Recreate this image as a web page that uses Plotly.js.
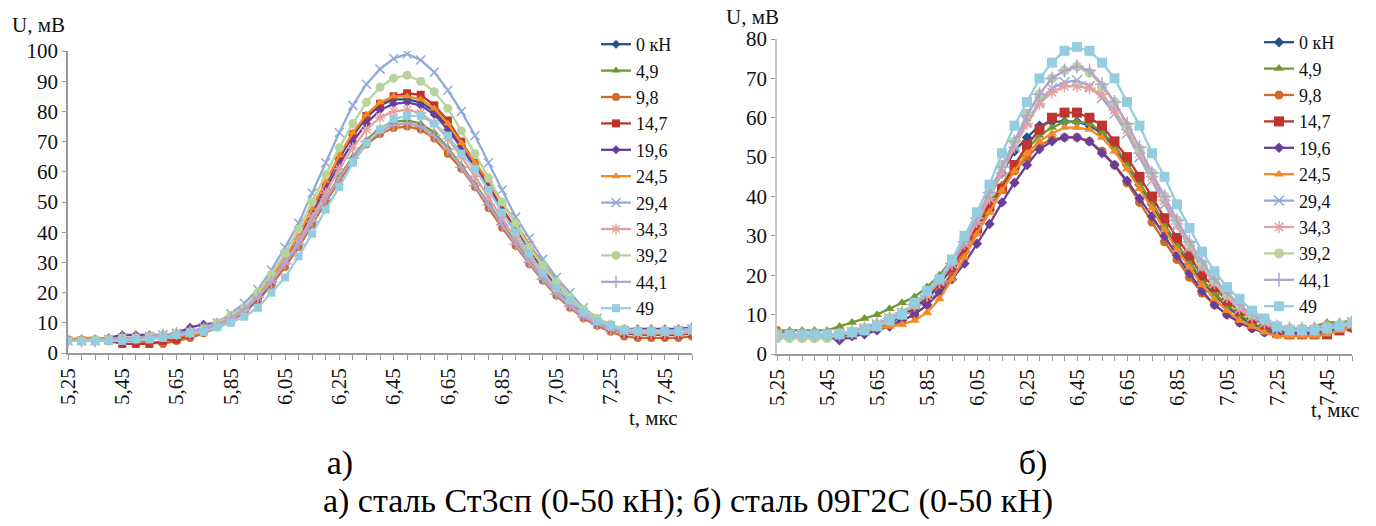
<!DOCTYPE html>
<html>
<head>
<meta charset="utf-8">
<script src="https://cdn.plot.ly/plotly-3.0.1.min.js"></script>
</head>
<body style="margin:0;background:#fff">
<div id="chart" style="width:1376px;height:440px"></div>
<div style="margin-top:4px;height:38px;line-height:38px;font-family:'Liberation Serif';font-size:34px;color:#000;white-space:nowrap"><span style="display:inline-block;margin-left:290px;width:100px;text-align:center">а)</span><span style="display:inline-block;margin-left:593px;width:100px;text-align:center">б)</span></div>
<div style="height:38px;line-height:38px;font-family:'Liberation Serif';font-size:34px;color:#000;text-align:center;white-space:nowrap;width:1376px">а) сталь Ст3сп (0-50 кН); б) сталь 09Г2С (0-50 кН)</div>
<script>
// time, µs
const t = [5.25,5.30,5.35,5.40,5.45,5.50,5.55,5.60,5.65,5.70,5.75,5.80,5.85,5.90,5.95,6.00,6.05,6.10,6.15,6.20,6.25,6.30,6.35,6.40,6.45,6.50,6.55,6.60,6.65,6.70,6.75,6.80,6.85,6.90,6.95,7.00,7.05,7.10,7.15,7.20,7.25,7.30,7.35,7.40,7.45,7.50,7.55];
const seriesNames = ['0 кН','4,9','9,8','14,7','19,6','24,5','29,4','34,3','39,2','44,1','49'];

// а) сталь Ст3сп
const a_0   = [4,4,4,4.5,4.5,5,5,5,5.5,6,7.5,9,11,14.5,19,24.5,31,38.5,47,56,64.5,72,78,82,84,84,83,80,75,68.5,62,55,47.5,40.5,33.5,27.5,22,17,13,10,8,7,6.5,6.5,6.5,6.5,7];
const a_49  = [4,4,4,4.5,4.5,5,5,5.5,6,6.5,7.5,9,11,14,18,23,29,36,43.5,51,58.5,65,70.5,74.5,76.5,77,76,73,68,62,56,49.5,43,36.5,30.5,25,20,15.5,12,9.5,8,7,6.5,6.5,6.5,6.5,7];
const a_98  = [4.5,4.5,4.5,4.5,4,4,3.5,3,4,5,6.5,8.5,10.5,13.5,17.5,22.5,28.5,35,42.5,50,57,63.5,69,72.5,74.5,75,74,71,66,61,55,48,41.5,35.5,29.5,24,19,15,11.5,9,7,5.5,5,5,5,5,5.5];
const a_147 = [4,4,4,4,3,3,3,4,4.5,6,7.5,9,11,14,18.5,24,30,38,47,56,65,72.5,78.5,82.5,85,86,85.5,82,77,70,63,55.5,48,41,34,27.5,22,17,13,10,8,6.5,6,6,6,6,6.5];
const a_196 = [4,4,4.5,5,6,6,6,6,6.5,8.5,9.5,10,11.5,14,18,23.5,30,37.5,46,54.5,62.5,70,76,80.5,82.5,83,82,79,74,68,61.5,54.5,47,40,33,27,21.5,16.5,12.5,10,8.5,8,8,8,8,8,8.5];
const a_245 = [4.5,5,5,4.5,4.5,4.5,5,5,5.5,6,7,9,11.5,15,19.5,25,31.5,39,48,57,65.5,73,79,83,85,85,84,81,76,69.5,63,57,50,43,36,29.5,24,18.5,14,10.5,8.5,7,6.5,6.5,6.5,6.5,7];
const a_294 = [4,4,4,4.5,5,5,5.5,6,6.5,7,8.5,10,13,16.5,21,27.5,35,43,53,63,73,82,89,94,97.5,99,97,93,87,80,72,63,54,45,38,31,25,20,15,11.5,9,7.5,7,7,7,7.5,8];
const a_343 = [4,4,4,4.5,5,5,5,5.5,6,6.5,7.5,9,11,14,18.5,24,30,37,45,53,61,68,74,78,80,80.5,79.5,76,71,65,58.5,51.5,44.5,38,31.5,25.5,20.5,16,12.5,10,8,7,6.5,6.5,6.5,6.5,7];
const a_392 = [4,4,4.5,4.5,5,5,5.5,6,6.5,7,8,10,12.5,15,20,26,33,41,50,59,68,76,83,88,91,92,90,86.5,81,73.5,66,58,50,43,35,29,23.5,18.5,14.5,11.5,9.5,8,7.5,7.5,7.5,7.5,8];
const a_441 = [4,4,4,4.5,5,5,5.5,6,6.5,7,8,9.5,11.5,14.5,18.5,23.5,29.5,36,43.5,51,58,64.5,70,73.5,75.5,76,75,72,67.5,61.5,55.5,49,42.5,36,30,24.5,19.5,15.5,12,9.5,8,7,7,7,7,7.5,8];
const a_490 = [4,4,4,4,4,4.5,4.5,5,6,6.5,7,8.5,10,12,15,20,25,32,39.5,47.5,55,63,69.5,74,77.5,78.5,78.5,76,72,66,61,54,46.5,40,33,26.5,21.5,17.5,13.5,10.5,9,7.5,7,7,7,7,7.5];

// б) сталь 09Г2С
const b_0   = [5,5,5,5,5,5,5.5,6,7,8,9.5,11.5,14,17.5,22,28,34,40,46,51.5,55,58,59,59,59,58,56,52.5,48,43,38,32.5,27.5,23,18.5,15,12,9.5,7.5,6.5,5.5,5,5,5.5,6,7,7.5];
const b_49  = [6,6,6,6,6,7,8,9,10,11.5,13,14.5,17,20,24,28.5,33,38,43,48,52,55.5,57.5,59,59,58.5,56.5,53,48.5,43.5,38.5,33,28,23.5,19,15.5,12.5,10,8,6.5,6,6,6,7,8,8,8.5];
const b_98  = [6,5,5,5,5,5,5.5,6,6.5,7.5,8.5,10,12.5,16,20.5,26,31,36.5,42,46.5,50,53,54.5,55,55,54,51.5,48,43.5,38.5,33.5,28.5,24,19.5,15.5,12.5,10,8,6.5,5.5,5,5,5,5,5.5,6,6.5];
const b_147 = [5,5,5,5,5,4.5,5,6,7,8.5,10,12,14.5,18,22,27,32,37.5,42,48,53,57,60,61.3,61.3,60,58,54,50,45,40,34.5,29.5,25,20,17,13.5,11,9,7.5,5.5,5,5,5,5,6,7];
const b_196 = [4.5,4.5,4.5,4.5,4.5,3.5,4.5,5,6,7,8.5,10,12.5,15.5,19,23,28,33,38.5,43.5,48,52,54,55,55,54,51,48,44,39.5,35,30,25,20.5,16,12.5,10,8,6.5,5.5,5.5,5.5,5.5,5.5,6,6.5,7];
const b_245 = [5,5,5,5,5,5,5.5,6,6.5,7,7.5,8.5,10.5,14,19,24.5,30.5,36,41.5,46.5,51,54,56,57.5,57.5,57,55,51.5,47,42,37,31.5,26.5,22,17.5,14,11,8.5,7,5.5,4.5,4.5,4.5,4.5,5,6,7];
const b_294 = [5,5,5,5,5,5,5.5,6.5,7.5,9,10.5,12.5,15,18.5,23,28.5,34,40,46.5,53,59,64,67.5,69,69.5,68,65,61,56,50,44,38,32.5,27,22,18,14.5,11.5,9.5,8,6.5,6,6,6,6.5,7,8];
const b_343 = [4.5,4.5,4.5,4.5,4.5,5,5.5,6.5,7.5,9,10.5,12.5,15,18.5,23,28,33.5,39.5,46,52.5,58.5,63.5,66.5,68,68,67.5,66,62,57,51,45,39,33,27.5,22.5,18,14.5,11.5,9.5,8,6.5,6,6,6,6.5,7,7.5];
const b_392 = [4,4,4,4,4,5,5.5,6.5,7.5,9,10.5,12.5,15.5,19,23.5,29,35,41,48,54,61,66,70,72,73,71.5,68,64,58,52,46,40,34,28,23,18.5,15,12.5,10,8.5,7,6.5,6.5,6.5,7,7.5,8];
const b_441 = [5,5,5,5,5,5,5.5,6.5,7.5,9,10.5,12.5,15,18.5,23,28.5,34.5,41,47.5,54,60.5,66,70,72,73,72,68.5,64,58.5,52.5,46,40,34,28.5,23.5,19,15.5,12.5,10,8.5,7,6.5,6.5,6.5,7,7.5,8];
const b_490 = [5,5,5,5,5,5,5.5,6,7,8.5,10,13,16,19,24,30,36,43,51,58,64,70,74,77,78,77,74,70,64,58,51,45,38,32,26,21,17,14,11,9,7,6,6,6,6.5,7,8];

const seriesA = [a_0,a_49,a_98,a_147,a_196,a_245,a_294,a_343,a_392,a_441,a_490];
const seriesB = [b_0,b_49,b_98,b_147,b_196,b_245,b_294,b_343,b_392,b_441,b_490];

const colors  = ['#24508f','#6f9a33','#d06b25','#c0342f','#6a3f9c','#f48a24','#91abd9','#e3a2a0','#b8d49c','#b2a3cf','#94cde0'];
const symbols = ['diamond','triangle-up','circle','square','diamond','triangle-up','x-thin-open','asterisk-open','circle','cross-thin-open','square'];
const sizesA  = [7,8,8,8,7,8,9,9,9,9,8];
const sizesB  = [8,9,9,10,8,9,10,10,10,10,10];

const FONT = 'Liberation Serif';
const traces = [];
function addSet(data, xa, ya, leg, sizes) {
  data.forEach((ys, i) => {
    const thin = symbols[i].indexOf('thin') >= 0 || symbols[i].indexOf('asterisk') >= 0;
    traces.push({
      x: t, y: ys, xaxis: xa, yaxis: ya, legend: leg,
      type: 'scatter', mode: 'lines+markers', name: seriesNames[i],
      line: {color: colors[i], width: 2.3},
      marker: {symbol: symbols[i], size: sizes[i], color: colors[i],
               line: {color: colors[i], width: thin ? 1.5 : 0}},
      hoverinfo: 'skip'
    });
  });
}
addSet(seriesA, 'x', 'y', 'legend', sizesA);
addSet(seriesB, 'x2', 'y2', 'legend2', sizesB);

const W = 1376, H = 440;
const px = v => v / W;
const py = v => (H - v) / H;

function xAxis(domain) {
  return {
    domain: domain, range: [5.25, 7.55], autorange: false,
    tick0: 5.25, dtick: 0.2, tickformat: '.2f', tickangle: -90,
    ticks: 'outside', ticklen: 5, tickcolor: '#999',
    minor: {tick0: 5.25, dtick: 0.05, ticks: 'outside', ticklen: 5, tickcolor: '#999'},
    showline: true, linecolor: '#999', linewidth: 1.5,
    showgrid: false, zeroline: false,
    tickfont: {family: FONT, size: 21, color: '#111'}
  };
}
function yAxis(domain, max, anchor, lc) {
  return {
    domain: domain, range: [0, max], autorange: false, dtick: 10, anchor: anchor,
    ticks: 'outside', ticklen: 4, tickcolor: '#999',
    showline: true, linecolor: lc, linewidth: 1.5,
    showgrid: false, zeroline: false,
    tickfont: {family: FONT, size: 21, color: '#111'}
  };
}

const layout = {
  width: W, height: H,
  margin: {l: 0, r: 0, t: 0, b: 0},
  paper_bgcolor: '#fff', plot_bgcolor: '#fff',
  separators: ', ',
  showlegend: true,
  font: {family: FONT},
  xaxis: Object.assign(xAxis([px(68), px(692)]), {anchor: 'y'}),
  yaxis: yAxis([py(353), py(51)], 100, 'x', '#999'),
  xaxis2: Object.assign(xAxis([px(777), px(1352)]), {anchor: 'y2'}),
  yaxis2: yAxis([py(354), py(39)], 80, 'x2', '#ccc'),
  legend: {x: px(596), y: py(26), xanchor: 'left', yanchor: 'top',
           font: {family: FONT, size: 18, color: '#111'}, bgcolor: 'rgba(0,0,0,0)',
           tracegroupgap: 0, itemwidth: 30},
  legend2: {x: px(1259), y: py(24), xanchor: 'left', yanchor: 'top',
           font: {family: FONT, size: 18, color: '#111'}, bgcolor: 'rgba(0,0,0,0)',
           tracegroupgap: 0, itemwidth: 30},
  annotations: [
    {text: 'U, мВ', x: px(10), y: py(25), xref: 'paper', yref: 'paper', xanchor: 'left', yanchor: 'middle', showarrow: false, font: {family: FONT, size: 21, color: '#111'}},
    {text: 't, мкс', x: px(680), y: py(418), xref: 'paper', yref: 'paper', xanchor: 'right', yanchor: 'middle', showarrow: false, font: {family: FONT, size: 21, color: '#111'}},
    {text: 'U, мВ', x: px(724), y: py(17), xref: 'paper', yref: 'paper', xanchor: 'left', yanchor: 'middle', showarrow: false, font: {family: FONT, size: 21, color: '#111'}},
    {text: 't, мкс', x: px(1362), y: py(410), xref: 'paper', yref: 'paper', xanchor: 'right', yanchor: 'middle', showarrow: false, font: {family: FONT, size: 21, color: '#111'}}
  ]
};

Plotly.newPlot('chart', traces, layout, {displayModeBar: false});
</script>
</body>
</html>
